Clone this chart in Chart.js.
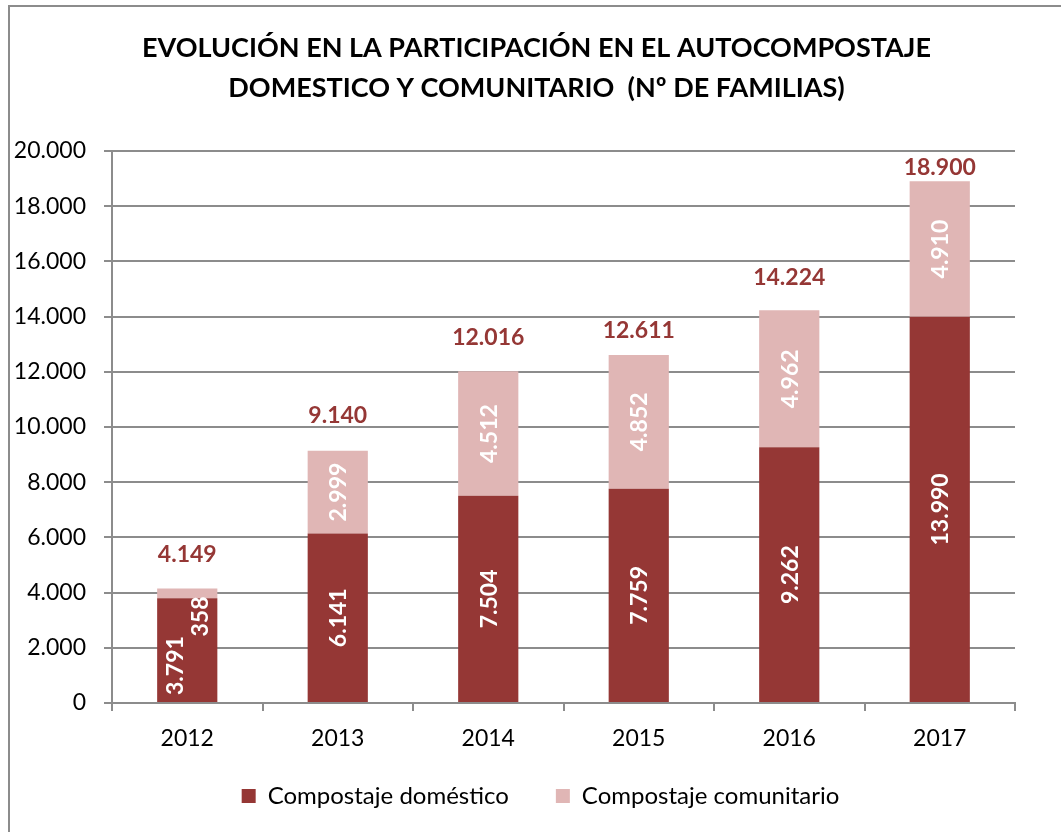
<!DOCTYPE html>
<html>
<head>
<meta charset="utf-8">
<script src="https://cdn.jsdelivr.net/npm/chart.js@4.4.0/dist/chart.umd.min.js"></script>
<style>
    body { margin: 0; background: #fff; overflow: hidden; }
    #frame { position: absolute; left: 8px; top: 5px; width: 1070px; height: 840px; border: 2px solid #8c8c8c; }
    #wrap { position: absolute; left: 0; top: 0; width: 1061px; height: 832px; }
</style>
</head>
<body>
<div id="frame"></div>
<div id="wrap"><canvas id="chart" width="1061" height="832"></canvas></div>
<script>
// --- Data ---
const years = ['2012', '2013', '2014', '2015', '2016', '2017'];
const domestico = [3791, 6141, 7504, 7759, 9262, 13990];
const comunitario = [358, 2999, 4512, 4852, 4962, 4910];
const totals = [4149, 9140, 12016, 12611, 14224, 18900];
const titleLines = ['EVOLUCIÓN EN LA PARTICIPACIÓN EN EL AUTOCOMPOSTAJE', 'DOMESTICO Y COMUNITARIO  (Nº DE FAMILIAS)'];

const DARK = '#953735';
const LIGHT = '#e0b6b5';
const GRID = '#8c8c8c';
const FONT = 'Lato';
// distance (px) of each total label above its bar, as placed in the original
const totalGaps = [34, 35, 34, 24, 33, 14];

// 12345 -> "12.345"
function fmt(v) {
    return String(v).replace(/\B(?=(\d{3})+(?!\d))/g, '.');
}

// Title and legend are centred on the outer frame, not on the plot
const centerPlugin = {
    id: 'recenter',
    afterLayout(chart) {
        if (chart.titleBlock) { chart.titleBlock.left += 29; chart.titleBlock.right += 29; }
        if (chart.legend) {
            const lg = chart.legend;
            lg.left += 33; lg.right += 33;
            const shift = lg.top + 59 - 796; // put legend row at y=796
            lg.top -= shift; lg.bottom -= shift;
        }
    }
};

// Draws rotated values inside the bars and the totals on top
const labelPlugin = {
    id: 'barLabels',
    afterDatasetsDraw(chart) {
        const ctx = chart.ctx;
        const metaDom = chart.getDatasetMeta(0);
        const metaCom = chart.getDatasetMeta(1);
        ctx.save();
        ctx.font = `bold 23px ${FONT}`;
        years.forEach((y, i) => {
            const barD = metaDom.data[i];
            const barC = metaCom.data[i];
            const tD = fmt(domestico[i]);
            const tC = fmt(comunitario[i]);
            const hC = Math.abs(barC.base - barC.y);
            const wC = ctx.measureText(tC).width;
            ctx.fillStyle = '#fff';
            ctx.textBaseline = 'middle';
            if (wC + 8 <= hC) {
                drawRot(ctx, tD, barD.x, (barD.y + barD.base) / 2, 'center');
                drawRot(ctx, tC, barC.x, (barC.y + barC.base) / 2, 'center');
            } else {
                // small segment: put labels side by side
                drawRot(ctx, tD, barD.x - 13, barD.base - 7, 'left');
                drawRot(ctx, tC, barC.x + 12, barC.y + 8, 'right');
            }
            // total
            ctx.fillStyle = DARK;
            ctx.textAlign = 'center';
            ctx.textBaseline = 'middle';
            const ty = Math.max(barC.y - totalGaps[i], chart.chartArea.top + 16);
            ctx.fillText(fmt(totals[i]), barC.x, ty);
        });
        ctx.restore();
    }
};

function drawRot(ctx, text, x, y, align) {
    ctx.save();
    ctx.translate(x, y);
    ctx.rotate(-Math.PI / 2);
    ctx.textAlign = align;
    ctx.fillText(text, 0, 1);
    ctx.restore();
}

const chartCtx = document.getElementById('chart').getContext('2d');
new Chart(chartCtx, {
    type: 'bar',
    data: {
        labels: years,
        datasets: [
            { label: 'Compostaje doméstico', data: domestico, backgroundColor: DARK, barPercentage: 0.4, categoryPercentage: 1 },
            { label: 'Compostaje comunitario', data: comunitario, backgroundColor: LIGHT, barPercentage: 0.4, categoryPercentage: 1 }
        ]
    },
    options: {
        responsive: false,
        animation: false,
        layout: { padding: { left: 0, right: 46, top: 0, bottom: -10 } },
        plugins: {
            title: {
                display: true,
                text: titleLines,
                color: '#000',
                font: { family: FONT, size: 27, weight: 'bold', lineHeight: 1.48 },
                padding: { top: 28, bottom: 43 }
            },
            legend: {
                position: 'bottom',
                labels: {
                    color: '#000',
                    font: { family: FONT, size: 24 },
                    boxWidth: 14,
                    boxHeight: 14,
                    padding: 47
                }
            },
            tooltip: { enabled: false }
        },
        scales: {
            x: {
                stacked: true,
                afterFit: (scale) => { scale.height = 58; },
                grid: { offset: true, drawOnChartArea: false, color: GRID, tickLength: 8, lineWidth: 2 },
                border: { color: GRID, width: 2 },
                ticks: { color: '#000', font: { family: FONT, size: 23 }, padding: 14 }
            },
            y: {
                stacked: true,
                min: 0,
                max: 20000,
                afterFit: (scale) => { scale.width = 112; },
                grid: { color: GRID, tickLength: 8, lineWidth: 2 },
                border: { color: GRID, width: 2 },
                ticks: { stepSize: 2000, color: '#000', font: { family: FONT, size: 23 }, padding: 18, callback: (v) => fmt(v) }
            }
        }
    },
    plugins: [labelPlugin, centerPlugin]
});
</script>
</body>
</html>
